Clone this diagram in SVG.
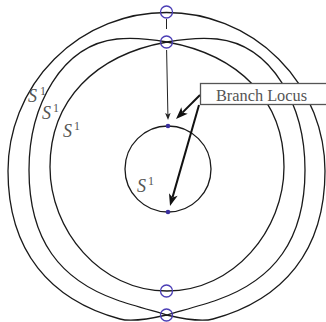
<svg xmlns="http://www.w3.org/2000/svg" width="326" height="322" viewBox="0 0 326 322">
<style>
.curve{fill:none;stroke:#1a1a1a;stroke-width:1.3}
.ring{fill:none;stroke:#4a3db5;stroke-width:1.3}
.dot{fill:#3a2f9e}
.lbl{font-family:"Liberation Serif","DejaVu Serif",serif;font-style:italic;font-size:18px;fill:#555}
.sup{font-family:"Liberation Serif","DejaVu Serif",serif;font-size:12px;fill:#555}
.box-text{font-family:"Liberation Serif","DejaVu Serif",serif;font-size:16px;fill:#555}
.thick{stroke:#111;stroke-width:2;fill:none}
.thin{stroke:#222;stroke-width:1;fill:none}
</style>
<defs>
<marker id="bigHead" markerUnits="userSpaceOnUse" markerWidth="12" markerHeight="9" refX="3" refY="4.5" orient="auto" overflow="visible">
<path d="M0,0 L12,4.5 L0,9 L3,4.5 Z" fill="#111"/>
</marker>
<marker id="smallHead" markerUnits="userSpaceOnUse" markerWidth="7" markerHeight="5.5" refX="1.5" refY="2.75" orient="auto" overflow="visible">
<path d="M0,0 L7,2.75 L0,5.5 L1.5,2.75 Z" fill="#222"/>
</marker>
</defs>
<rect width="326" height="322" fill="#fff"/>
<g id="outer">
<path class="curve" d="M8,171 A158.5,158.5 0 0 1 325,171 C325,251 283,300 213,319 C205,321.2 188,320 166.5,315 C145,320 128,321.2 120,319 C50,300 8,251 8,171 Z"/>
<text class="lbl" x="28" y="102">S</text><text class="sup" x="40" y="95">1</text>
</g>
<g id="middle">
<path class="curve" d="M29,170 C29,105 62,45 117,39 C130,37.6 150,39 167,42 C184,39 204,37.6 217,39 C272,45 305,105 305,170 C305,240 274,280 217,300 C203,305 184,310 167,315 C150,310 131,305 117,300 C60,280 29,240 29,170 Z"/>
<text class="lbl" x="42" y="119">S</text><text class="sup" x="53" y="112">1</text>
</g>
<g id="inner">
<path class="curve" d="M50,167 C50,100 95,55 167,42 C239,55 284,100 284,167 C284,230 234,291 167,291 C100,291 50,230 50,167 Z"/>
<text class="lbl" x="63" y="137">S</text><text class="sup" x="74" y="130">1</text>
</g>
<g id="small-circle">
<circle class="curve" cx="168" cy="169" r="43"/>
<text class="lbl" x="137" y="192">S</text><text class="sup" x="148" y="185">1</text>
</g>
<g id="markers">
<circle class="ring" cx="166.5" cy="12" r="6"/>
<circle class="ring" cx="166.5" cy="42" r="6"/>
<circle class="ring" cx="166.5" cy="291" r="6"/>
<circle class="ring" cx="166.5" cy="315" r="6"/>
<circle class="dot" cx="168" cy="126" r="2.3"/>
<circle class="dot" cx="168" cy="212" r="2.3"/>
</g>
<g id="connectors">
<line class="thin" x1="166.5" y1="19" x2="166.5" y2="29"/>
<line class="thin" x1="166.6" y1="50" x2="167.9" y2="114.5" marker-end="url(#smallHead)"/>
<line class="thick" x1="200" y1="95" x2="182.4" y2="112.6" marker-end="url(#bigHead)"/>
<line class="thick" x1="199" y1="105" x2="172.5" y2="197.4" marker-end="url(#bigHead)"/>
</g>
<g id="branch-locus">
<rect x="200.5" y="83.5" width="130" height="21" fill="#fff" stroke="#555" stroke-width="1.3"/>
<text class="box-text" x="216" y="100.5" textLength="91" lengthAdjust="spacingAndGlyphs">Branch Locus</text>
</g>
</svg>
